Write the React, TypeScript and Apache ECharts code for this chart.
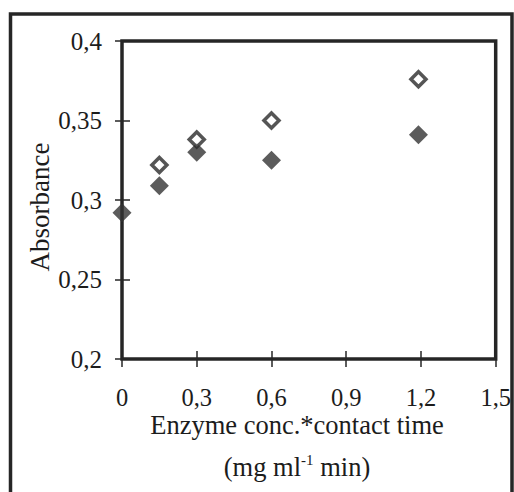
import React, { useEffect, useRef } from "react";
import * as echarts from "echarts";

const xFilled = [0, 0.15, 0.3, 0.6, 1.19];
const yFilled = [0.292, 0.309, 0.33, 0.325, 0.341];
const xOpen = [0.15, 0.3, 0.6, 1.19];
const yOpen = [0.322, 0.338, 0.35, 0.376];
const xTickLabels = ["0", "0,3", "0,6", "0,9", "1,2", "1,5"];
const yTickLabels = ["0,2", "0,25", "0,3", "0,35", "0,4"];
const yName = "Absorbance";
const xNameLine1 = "Enzyme conc.*contact time";

const FONT = "'Liberation Serif', 'Times New Roman', serif";
const INK = "#262626";
const TEXT = "#1c1c1c";

export default function App() {
  const ref = useRef<HTMLDivElement>(null);
  useEffect(() => {
    if (!ref.current) return;
    const chart = echarts.init(ref.current, undefined, { renderer: "svg" });
    const xAxisBase = {
      type: "value",
      min: 0,
      max: 1.5,
      interval: 0.3,
      splitLine: { show: false },
      axisLine: { show: false },
    };
    const yAxisBase = {
      type: "value",
      min: 0.2,
      max: 0.4,
      interval: 0.05,
      splitLine: { show: false },
      axisLine: { show: false },
    };
    chart.setOption({
      animation: false,
      backgroundColor: "#fff",
      grid: {
        left: 122,
        top: 41,
        right: 17,
        bottom: 133,
        show: true,
        borderColor: INK,
        borderWidth: 3.5,
        backgroundColor: "transparent",
      },
      xAxis: [
        {
          ...xAxisBase,
          axisTick: { show: true, length: 8, inside: false, lineStyle: { color: INK, width: 1.5 } },
          axisLabel: {
            margin: 26,
            fontFamily: FONT,
            fontSize: 24.5,
            lineHeight: 24,
            color: TEXT,
            formatter: (_v: number, i: number) => xTickLabels[i] ?? "",
          },
        },
        {
          ...xAxisBase,
          position: "bottom",
          axisTick: { show: true, length: 8, inside: true, lineStyle: { color: INK, width: 1.5 } },
          axisLabel: { show: false },
        },
      ],
      yAxis: [
        {
          ...yAxisBase,
          axisTick: { show: true, length: 7, inside: false, lineStyle: { color: INK, width: 1.5 } },
          axisLabel: {
            margin: 20,
            fontFamily: FONT,
            fontSize: 25,
            color: TEXT,
            formatter: (_v: number, i: number) => yTickLabels[i] ?? "",
          },
        },
        {
          ...yAxisBase,
          position: "left",
          axisTick: { show: true, length: 8, inside: true, lineStyle: { color: INK, width: 1.5 } },
          axisLabel: { show: false },
        },
      ],
      series: [
        {
          type: "scatter",
          name: "filled",
          clip: false,
          symbol: "diamond",
          symbolSize: [19, 19],
          itemStyle: { color: "#333" },
          data: xFilled.map((x, i) => [x, yFilled[i]]),
          z: 3,
        },
        {
          type: "scatter",
          name: "open",
          clip: false,
          symbol: "diamond",
          symbolSize: [15, 15],
          itemStyle: { color: "#fff", borderColor: "#2a2a2a", borderWidth: 3.5 },
          data: xOpen.map((x, i) => [x, yOpen[i]]),
          z: 4,
        },
      ],
      graphic: [
        {
          type: "rect",
          shape: { x: 10.5, y: 14, width: 501.5, height: 500 },
          style: { fill: "none", stroke: INK, lineWidth: 3.5 },
          silent: true,
        },
        {
          type: "text",
          x: 40,
          y: 207,
          rotation: Math.PI / 2,
          style: {
            text: yName,
            fontFamily: FONT,
            fontSize: 27,
            fill: TEXT,
            align: "center",
            verticalAlign: "middle",
          },
        },
        {
          type: "text",
          x: 297,
          y: 425,
          style: {
            text: xNameLine1,
            fontFamily: FONT,
            fontSize: 26.5,
            lineHeight: 24,
            fill: TEXT,
            align: "center",
            verticalAlign: "middle",
          },
        },
        {
          type: "text",
          x: 297,
          y: 467,
          style: {
            text: "{a|(mg ml}{s|-1}{a| min)}",
            align: "center",
            verticalAlign: "middle",
            rich: {
              a: { fontFamily: FONT, fontSize: 26.5, fill: TEXT, lineHeight: 30 },
              s: { fontFamily: FONT, fontSize: 15, fill: TEXT, verticalAlign: "top", lineHeight: 14 },
            },
          },
        },
      ],
    });
    return () => chart.dispose();
  }, []);
  return (
    <div
      ref={ref}
      style={{ position: "absolute", left: 0, top: 0, width: 514, height: 492 }}
    />
  );
}
